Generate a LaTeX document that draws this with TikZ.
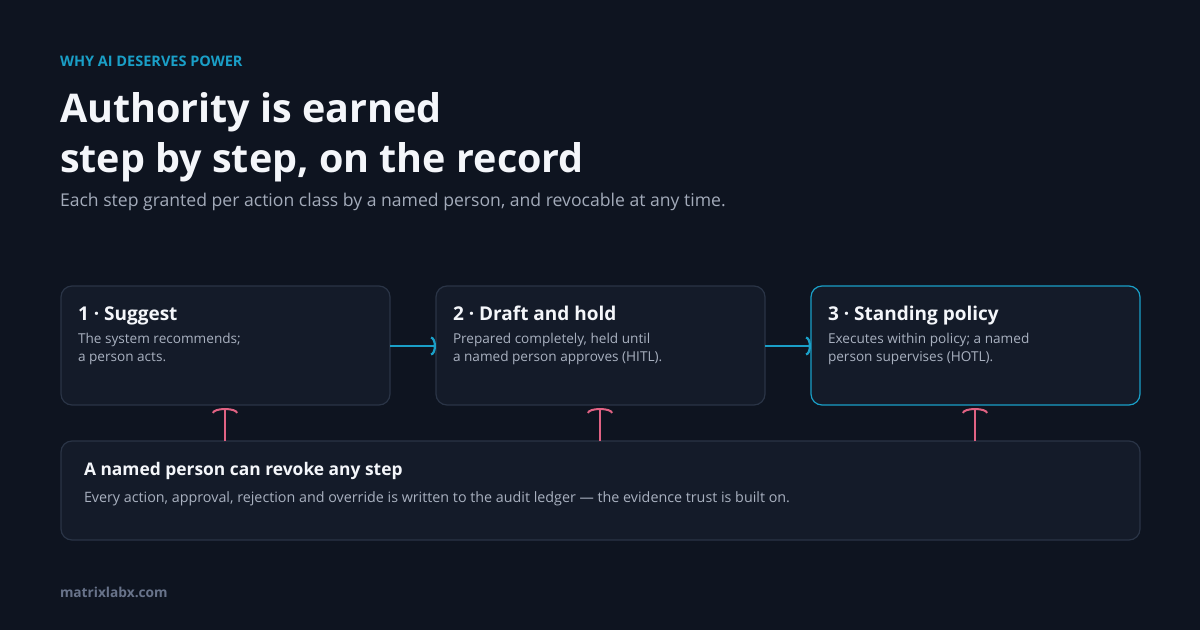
\documentclass[tikz,border=0pt]{standalone}
\usepackage{fontspec}
\setmainfont{Open Sans}
\usetikzlibrary{arrows.meta}
\definecolor{bg}{HTML}{0E1420}
\definecolor{boxfill}{HTML}{141B29}
\definecolor{boxline}{HTML}{2A3446}
\definecolor{accent}{HTML}{1A9FC7}
\definecolor{pinkc}{HTML}{E06283}
\definecolor{titlec}{HTML}{F4F6FA}
\definecolor{bodyc}{HTML}{A9B1C0}
\definecolor{subc}{HTML}{A3ABBA}
\definecolor{footc}{HTML}{68738A}
\tikzset{
  stepbox/.style={draw=boxline, fill=boxfill, line width=1.2pt, rounded corners=11pt},
  hot/.style={draw=accent},
  txt/.style={anchor=base west, inner sep=0pt, outer sep=0pt},
  boxtitle/.style={txt, text=titlec, font=\fontsize{19}{22}\selectfont\bfseries},
  boxbody/.style={txt, text=bodyc, font=\fontsize{13.6}{18}\selectfont},
  flow/.style={draw=accent, line width=2.6pt, -{Arc Barb[length=5pt, width=19pt, line width=2.2pt]}},
  revoke/.style={draw=pinkc, line width=2.2pt, -{Arc Barb[length=5pt, width=26pt, line width=2pt]}},
}
\begin{document}
\begin{tikzpicture}[x=1pt, y=-1pt]
\fill[bg] (0,0) rectangle (1200,630);
\useasboundingbox (0,0) rectangle (1200,630);

\node[txt, text=accent, font=\fontsize{14.5}{16}\selectfont\bfseries] (kicker) at (60,66) {WHY AI DESERVES POWER};
\node[txt, text=titlec, font=\fontsize{39.5}{44}\selectfont\bfseries] (t1) at (60,122) {Authority is earned};
\node[txt, text=titlec, font=\fontsize{39.5}{44}\selectfont\bfseries] (t2) at (60,172) {step by step, on the record};
\node[txt, text=subc, font=\fontsize{17.6}{20}\selectfont] (sub) at (60,206) {Each step granted per action class by a named person, and revocable at any time.};

% boxes
\path[stepbox] (61,286) rectangle (390,405);
\path[stepbox] (436,286) rectangle (765,405);
\path[stepbox, hot] (811,286) rectangle (1140,405);
\coordinate (b1e) at (390,346);
\coordinate (b2w) at (436,346);
\coordinate (b2e) at (765,346);
\coordinate (b3w) at (811,346);

\node[boxtitle] (s1) at (78,320) {1 · Suggest};
\node[boxbody] (s1a) at (78,343) {The system recommends;};
\node[boxbody] (s1b) at (78,361) {a person acts.};
\node[boxtitle] (s2) at (453,320) {2 · Draft and hold};
\node[boxbody] (s2a) at (453,343) {Prepared completely, held until};
\node[boxbody] (s2b) at (453,361) {a named person approves (HITL).};
\node[boxtitle] (s3) at (828,320) {3 · Standing policy};
\node[boxbody] (s3a) at (828,343) {Executes within policy; a named};
\node[boxbody] (s3b) at (828,361) {person supervises (HOTL).};

\draw[flow] (b1e) -- (b2w);
\draw[flow] (b2e) -- (b3w);

% bottom
\path[stepbox] (61,441) rectangle (1140,540);
\node[txt, text=titlec, font=\fontsize{17.4}{20}\selectfont\bfseries] (rv) at (84,475) {A named person can revoke any step};
\node[txt, text=bodyc, font=\fontsize{14.3}{16}\selectfont] (rvb) at (84,502) {Every action, approval, rejection and override is written to the audit ledger — the evidence trust is built on.};

\coordinate (r1a) at (225,441); \coordinate (r1b) at (225,408);
\coordinate (r2a) at (600,441); \coordinate (r2b) at (600,408);
\coordinate (r3a) at (975,441); \coordinate (r3b) at (975,408);
\draw[revoke] (r1a) -- (r1b);
\draw[revoke] (r2a) -- (r2b);
\draw[revoke] (r3a) -- (r3b);

\node[txt, text=footc, font=\fontsize{13.7}{16}\selectfont\bfseries] (foot) at (60,597) {matrixlabx.com};
\end{tikzpicture}
\end{document}
